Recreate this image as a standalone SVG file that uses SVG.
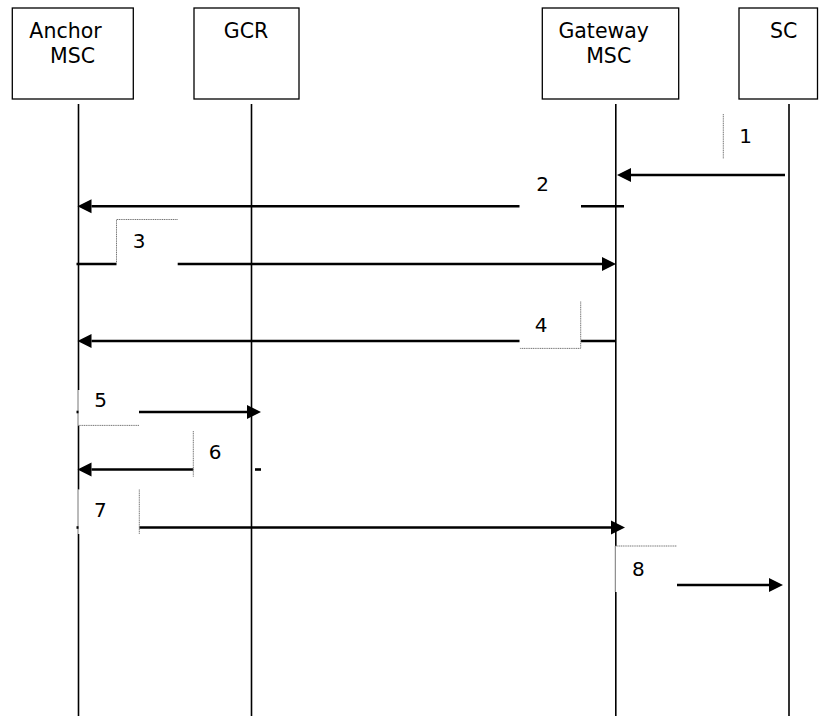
<svg xmlns="http://www.w3.org/2000/svg" width="819" height="716" viewBox="0 0 819 716">
<style>
.box{fill:#fff;stroke:#000;stroke-width:1.3}
.hdr{font-family:"DejaVu Sans","Verdana",sans-serif;font-size:20.5px;fill:#000;text-anchor:middle}
.num{font-family:"DejaVu Sans","Verdana",sans-serif;font-size:20px;fill:#000;text-anchor:middle}
.life{stroke:#000;stroke-width:1.6;fill:none}
.thin{stroke:#666;stroke-width:0.9;fill:none}
.msg{stroke:#000;stroke-width:2.6;fill:none}
.lbl{stroke:#777;stroke-width:1;fill:none;stroke-dasharray:1.2 0.6}
</style>
<defs>
<marker id="ah" markerUnits="userSpaceOnUse" markerWidth="16" markerHeight="16" viewBox="0 -8 16 16" refX="0" refY="0" orient="auto">
<path d="M0,-7 L14,0 L0,7 z" fill="#000"/>
</marker>
</defs>
<rect width="819" height="716" fill="#fff"/>

<g id="anchor-msc">
<rect class="box" x="12.3" y="8" width="121" height="91"/>
<text class="hdr" x="65.5" y="38.3">Anchor</text>
<text class="hdr" x="72.5" y="63.3">MSC</text>
<path class="life" d="M78.5,104 V390 M78.5,425.5 V489.5 M78.5,534 V716"/>
<path class="thin" d="M78,390 V425.5 M78,489.5 V534"/>
</g>
<g id="gcr">
<rect class="box" x="194" y="8" width="105" height="91"/>
<text class="hdr" x="246" y="38.3">GCR</text>
<path class="life" d="M251.5,104 V716"/>
</g>
<g id="gateway-msc">
<rect class="box" x="542.3" y="8" width="136.4" height="91"/>
<text class="hdr" x="603.7" y="38.3">Gateway</text>
<text class="hdr" x="608.7" y="63.3">MSC</text>
<path class="life" d="M615.8,104 V546 M615.8,592 V716"/>
<path class="thin" d="M615.3,546 V592"/>
</g>
<g id="sc">
<rect class="box" x="739" y="8" width="78.5" height="91"/>
<text class="hdr" x="783.7" y="38.3">SC</text>
<path class="life" d="M789,104 V716"/>
</g>

<g id="connectors">
<line class="msg" x1="785" y1="175" x2="631" y2="175" marker-end="url(#ah)"/>
<line class="msg" x1="624" y1="206.3" x2="581" y2="206.3"/>
<line class="msg" x1="519.5" y1="206.3" x2="91.5" y2="206.3" marker-end="url(#ah)"/>
<line class="msg" x1="76.5" y1="264" x2="116.5" y2="264"/>
<line class="msg" x1="177.7" y1="264" x2="602" y2="264" marker-end="url(#ah)"/>
<line class="msg" x1="616" y1="341" x2="581" y2="341"/>
<line class="msg" x1="519.5" y1="341" x2="91.5" y2="341" marker-end="url(#ah)"/>
<line class="msg" x1="76.5" y1="412" x2="78.5" y2="412"/>
<line class="msg" x1="139" y1="412" x2="247" y2="412" marker-end="url(#ah)"/>
<line class="msg" x1="193.3" y1="469.5" x2="91.5" y2="469.5" marker-end="url(#ah)"/>
<line class="msg" x1="255" y1="469.5" x2="261" y2="469.5"/>
<line class="msg" x1="76.5" y1="527.5" x2="78.5" y2="527.5"/>
<line class="msg" x1="139.3" y1="527.5" x2="611" y2="527.5" marker-end="url(#ah)"/>
<line class="msg" x1="677" y1="585" x2="769" y2="585" marker-end="url(#ah)"/>
</g>

<g id="labels">
<path class="lbl" d="M723.3,114 V159"/>
<text class="num" x="745.7" y="143">1</text>
<text class="num" x="542.7" y="190.7">2</text>
<path class="lbl" d="M116.5,264 V219.5 H177.7"/>
<text class="num" x="139" y="248">3</text>
<path class="lbl" d="M580.7,301.5 V348.4 H519.5"/>
<text class="num" x="541" y="331.7">4</text>
<path class="lbl" d="M78.5,425.4 H139"/>
<text class="num" x="100.7" y="407">5</text>
<path class="lbl" d="M193.3,431 V476.7"/>
<text class="num" x="215" y="459.3">6</text>
<path class="lbl" d="M139.3,489.5 V534"/>
<text class="num" x="100.3" y="517.2">7</text>
<path class="lbl" d="M615.5,546 H677"/>
<text class="num" x="638.3" y="576">8</text>
</g>
</svg>
